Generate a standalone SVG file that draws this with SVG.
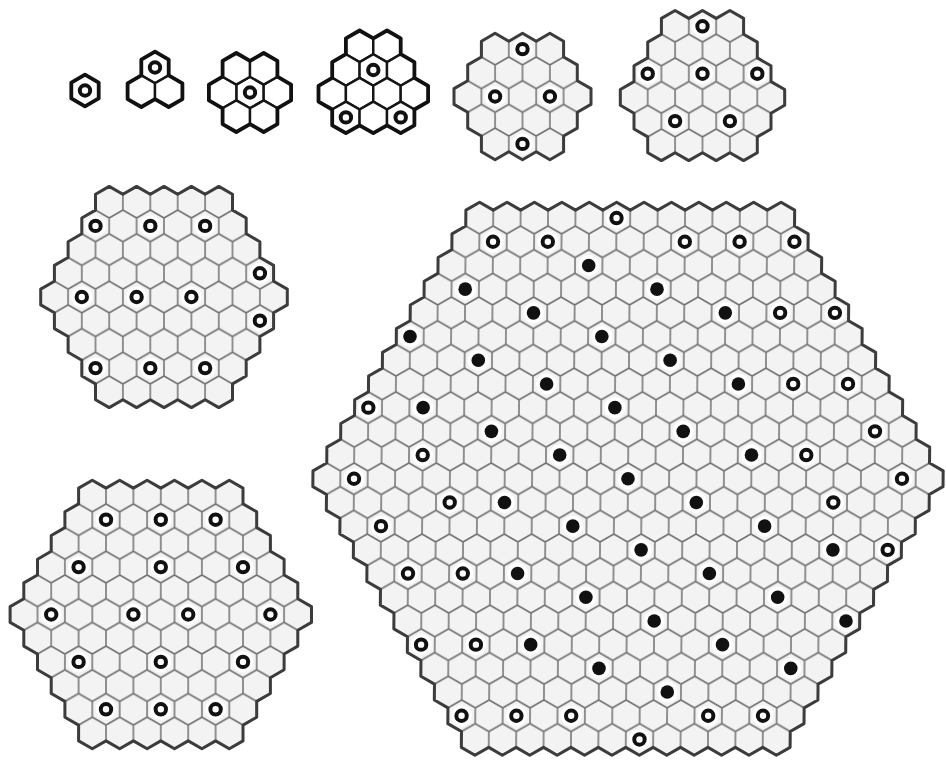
<svg xmlns="http://www.w3.org/2000/svg" xmlns:xlink="http://www.w3.org/1999/xlink" width="946" height="761" viewBox="0 0 946 761">
<defs>
<style>
.grid{fill:url(#hexgrid);stroke:#3c3c3c;stroke-width:3;stroke-linejoin:round}
.bcell{fill:#fff;stroke:#151515;stroke-width:2.4}
.bout{fill:none;stroke:#111;stroke-width:3.8;stroke-linejoin:round}
</style>
<pattern id="hexgrid" patternUnits="userSpaceOnUse" width="27.4" height="47.4">
<rect width="27.4" height="47.4" fill="#f3f3f3"/>
<path d="M13.7,-1 V7.9 M13.7,39.5 V48.4 M0,15.8 L13.7,7.9 L27.4,15.8 V31.6 L13.7,39.5 L0,31.6 Z" fill="none" stroke="#717171" stroke-width="1.5"/>
</pattern>
<path id="hx" d="M0,-15.8 L13.7,-7.9 V7.9 L0,15.8 L-13.7,7.9 V-7.9 Z"/>
<g id="ring"><circle r="10.5" fill="#fff"/><circle r="5.2" fill="none" stroke="#111" stroke-width="4"/></g>
<g id="dot"><circle r="10.5" fill="#fff"/><circle r="6.8" fill="#111"/></g>
</defs>
<rect width="946" height="761" fill="#fff"/>

<g id="clusterA" transform="translate(85,90.5)">
<use href="#hx" class="bcell"/>
<use href="#hx" class="bout"/>
<use href="#ring"/>
</g>

<g id="clusterB" transform="translate(155,67.5)">
<use href="#hx" class="bcell"/>
<use href="#hx" class="bcell" x="-13.7" y="23.7"/>
<use href="#hx" class="bcell" x="13.7" y="23.7"/>
<path class="bout" d="M-13.7,-7.9 l13.7,-7.9 13.7,7.9 v15.8 l13.7,7.9 v15.8 l-13.7,7.9 -13.7,-7.9 -13.7,7.9 -13.7,-7.9 v-15.8 l13.7,-7.9 v-15.8 z"/>
<use href="#ring"/>
</g>

<g id="clusterC" transform="translate(250,92.5)">
<use href="#hx" class="bcell"/>
<use href="#hx" class="bcell" x="-27.4"/>
<use href="#hx" class="bcell" x="27.4"/>
<use href="#hx" class="bcell" x="-13.7" y="-23.7"/>
<use href="#hx" class="bcell" x="13.7" y="-23.7"/>
<use href="#hx" class="bcell" x="-13.7" y="23.7"/>
<use href="#hx" class="bcell" x="13.7" y="23.7"/>
<path class="bout" d="M-27.4,-31.6 l13.7,-7.9 13.7,7.9 13.7,-7.9 13.7,7.9 v15.8 l13.7,7.9 v15.8 l-13.7,7.9 v15.8 l-13.7,7.9 -13.7,-7.9 -13.7,7.9 -13.7,-7.9 v-15.8 l-13.7,-7.9 v-15.8 l13.7,-7.9 v-15.8 z"/>
<use href="#ring"/>
</g>

<g id="clusterD" transform="translate(373.3,70)">
<use href="#hx" class="bcell" x="-13.7" y="-23.7"/>
<use href="#hx" class="bcell" x="13.7" y="-23.7"/>
<use href="#hx" class="bcell" x="-27.4"/>
<use href="#hx" class="bcell"/>
<use href="#hx" class="bcell" x="27.4"/>
<use href="#hx" class="bcell" x="-41.1" y="23.7"/>
<use href="#hx" class="bcell" x="-13.7" y="23.7"/>
<use href="#hx" class="bcell" x="13.7" y="23.7"/>
<use href="#hx" class="bcell" x="41.1" y="23.7"/>
<use href="#hx" class="bcell" x="-27.4" y="47.4"/>
<use href="#hx" class="bcell" y="47.4"/>
<use href="#hx" class="bcell" x="27.4" y="47.4"/>
<path class="bout" d="M-27.4,-31.6 l13.7,-7.9 13.7,7.9 13.7,-7.9 13.7,7.9 v15.8 l13.7,7.9 v15.8 l13.7,7.9 v15.8 l-13.7,7.9 v15.8 l-13.7,7.9 -13.7,-7.9 -13.7,7.9 -13.7,-7.9 -13.7,7.9 -13.7,-7.9 v-15.8 l-13.7,-7.9 v-15.8 l13.7,-7.9 v-15.8 l13.7,-7.9 v-15.8 z"/>
<use href="#ring"/>
<use href="#ring" x="-27.4" y="47.4"/>
<use href="#ring" x="27.4" y="47.4"/>
</g>

<g id="clusterE" transform="translate(522.5,96.5)">
<path class="grid" d="M-41.1,-55.3 l13.7,-7.9 13.7,7.9 13.7,-7.9 13.7,7.9 13.7,-7.9 13.7,7.9 v15.8 l13.7,7.9 v15.8 l13.7,7.9 v15.8 l-13.7,7.9 v15.8 l-13.7,7.9 v15.8 l-13.7,7.9 -13.7,-7.9 -13.7,7.9 -13.7,-7.9 -13.7,7.9 -13.7,-7.9 v-15.8 l-13.7,-7.9 v-15.8 l-13.7,-7.9 v-15.8 l13.7,-7.9 v-15.8 l13.7,-7.9 v-15.8 z"/>
<use href="#ring" y="-47.4"/>
<use href="#ring" x="-27.4"/>
<use href="#ring" x="27.4"/>
<use href="#ring" y="47.4"/>
</g>

<g id="clusterF" transform="translate(702.5,73.7)">
<path class="grid" d="M-41.1,-55.3 l13.7,-7.9 13.7,7.9 13.7,-7.9 13.7,7.9 13.7,-7.9 13.7,7.9 v15.8 l13.7,7.9 v15.8 l13.7,7.9 v15.8 l13.7,7.9 v15.8 l-13.7,7.9 v15.8 l-13.7,7.9 v15.8 l-13.7,7.9 -13.7,-7.9 -13.7,7.9 -13.7,-7.9 -13.7,7.9 -13.7,-7.9 -13.7,7.9 -13.7,-7.9 v-15.8 l-13.7,-7.9 v-15.8 l-13.7,-7.9 v-15.8 l13.7,-7.9 v-15.8 l13.7,-7.9 v-15.8 l13.7,-7.9 v-15.8 z"/>
<use href="#ring" y="-47.4"/>
<use href="#ring" x="-54.8"/>
<use href="#ring"/>
<use href="#ring" x="54.8"/>
<use href="#ring" x="-27.4" y="47.4"/>
<use href="#ring" x="27.4" y="47.4"/>
</g>

<g id="clusterG" transform="translate(164,297)">
<path class="grid" d="M-68.5,-102.7 l13.7,-7.9 13.7,7.9 13.7,-7.9 13.7,7.9 13.7,-7.9 13.7,7.9 13.7,-7.9 13.7,7.9 13.7,-7.9 13.7,7.9 v15.8 l13.7,7.9 v15.8 l13.7,7.9 v15.8 l13.7,7.9 v15.8 l13.7,7.9 v15.8 l-13.7,7.9 v15.8 l-13.7,7.9 v15.8 l-13.7,7.9 v15.8 l-13.7,7.9 v15.8 l-13.7,7.9 -13.7,-7.9 -13.7,7.9 -13.7,-7.9 -13.7,7.9 -13.7,-7.9 -13.7,7.9 -13.7,-7.9 -13.7,7.9 -13.7,-7.9 v-15.8 l-13.7,-7.9 v-15.8 l-13.7,-7.9 v-15.8 l-13.7,-7.9 v-15.8 l-13.7,-7.9 v-15.8 l13.7,-7.9 v-15.8 l13.7,-7.9 v-15.8 l13.7,-7.9 v-15.8 l13.7,-7.9 v-15.8 z"/>
<use href="#ring" x="-68.5" y="-71.1"/>
<use href="#ring" x="-13.7" y="-71.1"/>
<use href="#ring" x="41.1" y="-71.1"/>
<use href="#ring" x="95.9" y="-23.7"/>
<use href="#ring" x="-82.2"/>
<use href="#ring" x="-27.4"/>
<use href="#ring" x="27.4"/>
<use href="#ring" x="95.9" y="23.7"/>
<use href="#ring" x="-68.5" y="71.1"/>
<use href="#ring" x="-13.7" y="71.1"/>
<use href="#ring" x="41.1" y="71.1"/>
</g>

<g id="clusterH" transform="translate(160.8,614.5)">
<path class="grid" d="M-82.2,-126.4 l13.7,-7.9 13.7,7.9 13.7,-7.9 13.7,7.9 13.7,-7.9 13.7,7.9 13.7,-7.9 13.7,7.9 13.7,-7.9 13.7,7.9 13.7,-7.9 13.7,7.9 v15.8 l13.7,7.9 v15.8 l13.7,7.9 v15.8 l13.7,7.9 v15.8 l13.7,7.9 v15.8 l13.7,7.9 v15.8 l-13.7,7.9 v15.8 l-13.7,7.9 v15.8 l-13.7,7.9 v15.8 l-13.7,7.9 v15.8 l-13.7,7.9 v15.8 l-13.7,7.9 -13.7,-7.9 -13.7,7.9 -13.7,-7.9 -13.7,7.9 -13.7,-7.9 -13.7,7.9 -13.7,-7.9 -13.7,7.9 -13.7,-7.9 -13.7,7.9 -13.7,-7.9 v-15.8 l-13.7,-7.9 v-15.8 l-13.7,-7.9 v-15.8 l-13.7,-7.9 v-15.8 l-13.7,-7.9 v-15.8 l-13.7,-7.9 v-15.8 l13.7,-7.9 v-15.8 l13.7,-7.9 v-15.8 l13.7,-7.9 v-15.8 l13.7,-7.9 v-15.8 l13.7,-7.9 v-15.8 z"/>
<use href="#ring" x="-54.8" y="-94.8"/>
<use href="#ring" y="-94.8"/>
<use href="#ring" x="54.8" y="-94.8"/>
<use href="#ring" x="-82.2" y="-47.4"/>
<use href="#ring" y="-47.4"/>
<use href="#ring" x="82.2" y="-47.4"/>
<use href="#ring" x="-109.6"/>
<use href="#ring" x="-27.4"/>
<use href="#ring" x="27.4"/>
<use href="#ring" x="109.6"/>
<use href="#ring" x="-82.2" y="47.4"/>
<use href="#ring" y="47.4"/>
<use href="#ring" x="82.2" y="47.4"/>
<use href="#ring" x="-54.8" y="94.8"/>
<use href="#ring" y="94.8"/>
<use href="#ring" x="54.8" y="94.8"/>
</g>

<g id="clusterBig" transform="matrix(1 0 -0.0085 1 628 478.75)">
<path class="grid" d="M-164.4,-268.6 l13.7,-7.9 13.7,7.9 13.7,-7.9 13.7,7.9 13.7,-7.9 13.7,7.9 13.7,-7.9 13.7,7.9 13.7,-7.9 13.7,7.9 13.7,-7.9 13.7,7.9 13.7,-7.9 13.7,7.9 13.7,-7.9 13.7,7.9 13.7,-7.9 13.7,7.9 13.7,-7.9 13.7,7.9 13.7,-7.9 13.7,7.9 13.7,-7.9 13.7,7.9 v15.8 l13.7,7.9 v15.8 l13.7,7.9 v15.8 l13.7,7.9 v15.8 l13.7,7.9 v15.8 l13.7,7.9 v15.8 l13.7,7.9 v15.8 l13.7,7.9 v15.8 l13.7,7.9 v15.8 l13.7,7.9 v15.8 l13.7,7.9 v15.8 l13.7,7.9 v15.8 l-13.7,7.9 v15.8 l-13.7,7.9 v15.8 l-13.7,7.9 v15.8 l-13.7,7.9 v15.8 l-13.7,7.9 v15.8 l-13.7,7.9 v15.8 l-13.7,7.9 v15.8 l-13.7,7.9 v15.8 l-13.7,7.9 v15.8 l-13.7,7.9 v15.8 l-13.7,7.9 v15.8 l-13.7,7.9 -13.7,-7.9 -13.7,7.9 -13.7,-7.9 -13.7,7.9 -13.7,-7.9 -13.7,7.9 -13.7,-7.9 -13.7,7.9 -13.7,-7.9 -13.7,7.9 -13.7,-7.9 -13.7,7.9 -13.7,-7.9 -13.7,7.9 -13.7,-7.9 -13.7,7.9 -13.7,-7.9 -13.7,7.9 -13.7,-7.9 -13.7,7.9 -13.7,-7.9 -13.7,7.9 -13.7,-7.9 v-15.8 l-13.7,-7.9 v-15.8 l-13.7,-7.9 v-15.8 l-13.7,-7.9 v-15.8 l-13.7,-7.9 v-15.8 l-13.7,-7.9 v-15.8 l-13.7,-7.9 v-15.8 l-13.7,-7.9 v-15.8 l-13.7,-7.9 v-15.8 l-13.7,-7.9 v-15.8 l-13.7,-7.9 v-15.8 l-13.7,-7.9 v-15.8 l13.7,-7.9 v-15.8 l13.7,-7.9 v-15.8 l13.7,-7.9 v-15.8 l13.7,-7.9 v-15.8 l13.7,-7.9 v-15.8 l13.7,-7.9 v-15.8 l13.7,-7.9 v-15.8 l13.7,-7.9 v-15.8 l13.7,-7.9 v-15.8 l13.7,-7.9 v-15.8 l13.7,-7.9 v-15.8 z"/>
<use href="#ring" x="-13.7" y="-260.7"/>
<use href="#ring" x="-137" y="-237"/>
<use href="#ring" x="-82.2" y="-237"/>
<use href="#ring" x="54.8" y="-237"/>
<use href="#ring" x="109.6" y="-237"/>
<use href="#ring" x="164.4" y="-237"/>
<use href="#dot" x="-41.1" y="-213.3"/>
<use href="#dot" x="-164.4" y="-189.6"/>
<use href="#dot" x="27.4" y="-189.6"/>
<use href="#dot" x="-95.9" y="-165.9"/>
<use href="#dot" x="95.9" y="-165.9"/>
<use href="#ring" x="150.7" y="-165.9"/>
<use href="#ring" x="205.5" y="-165.9"/>
<use href="#dot" x="-219.2" y="-142.2"/>
<use href="#dot" x="-27.4" y="-142.2"/>
<use href="#dot" x="-150.7" y="-118.5"/>
<use href="#dot" x="41.1" y="-118.5"/>
<use href="#dot" x="-82.2" y="-94.8"/>
<use href="#dot" x="109.6" y="-94.8"/>
<use href="#ring" x="164.4" y="-94.8"/>
<use href="#ring" x="219.2" y="-94.8"/>
<use href="#ring" x="-260.3" y="-71.1"/>
<use href="#dot" x="-205.5" y="-71.1"/>
<use href="#dot" x="-13.7" y="-71.1"/>
<use href="#dot" x="-137" y="-47.4"/>
<use href="#dot" x="54.8" y="-47.4"/>
<use href="#ring" x="246.6" y="-47.4"/>
<use href="#ring" x="-205.5" y="-23.7"/>
<use href="#dot" x="-68.5" y="-23.7"/>
<use href="#dot" x="123.3" y="-23.7"/>
<use href="#ring" x="178.1" y="-23.7"/>
<use href="#ring" x="-274" y="0"/>
<use href="#dot" x="0" y="0"/>
<use href="#ring" x="274" y="0"/>
<use href="#ring" x="-178.1" y="23.7"/>
<use href="#dot" x="-123.3" y="23.7"/>
<use href="#dot" x="68.5" y="23.7"/>
<use href="#ring" x="205.5" y="23.7"/>
<use href="#ring" x="-246.6" y="47.4"/>
<use href="#dot" x="-54.8" y="47.4"/>
<use href="#dot" x="137" y="47.4"/>
<use href="#dot" x="13.7" y="71.1"/>
<use href="#dot" x="205.5" y="71.1"/>
<use href="#ring" x="260.3" y="71.1"/>
<use href="#ring" x="-219.2" y="94.8"/>
<use href="#ring" x="-164.4" y="94.8"/>
<use href="#dot" x="-109.6" y="94.8"/>
<use href="#dot" x="82.2" y="94.8"/>
<use href="#dot" x="-41.1" y="118.5"/>
<use href="#dot" x="150.7" y="118.5"/>
<use href="#dot" x="27.4" y="142.2"/>
<use href="#dot" x="219.2" y="142.2"/>
<use href="#ring" x="-205.5" y="165.9"/>
<use href="#ring" x="-150.7" y="165.9"/>
<use href="#dot" x="-95.9" y="165.9"/>
<use href="#dot" x="95.9" y="165.9"/>
<use href="#dot" x="-27.4" y="189.6"/>
<use href="#dot" x="164.4" y="189.6"/>
<use href="#dot" x="41.1" y="213.3"/>
<use href="#ring" x="-164.4" y="237"/>
<use href="#ring" x="-109.6" y="237"/>
<use href="#ring" x="-54.8" y="237"/>
<use href="#ring" x="82.2" y="237"/>
<use href="#ring" x="137" y="237"/>
<use href="#ring" x="13.7" y="260.7"/>
</g>
</svg>
